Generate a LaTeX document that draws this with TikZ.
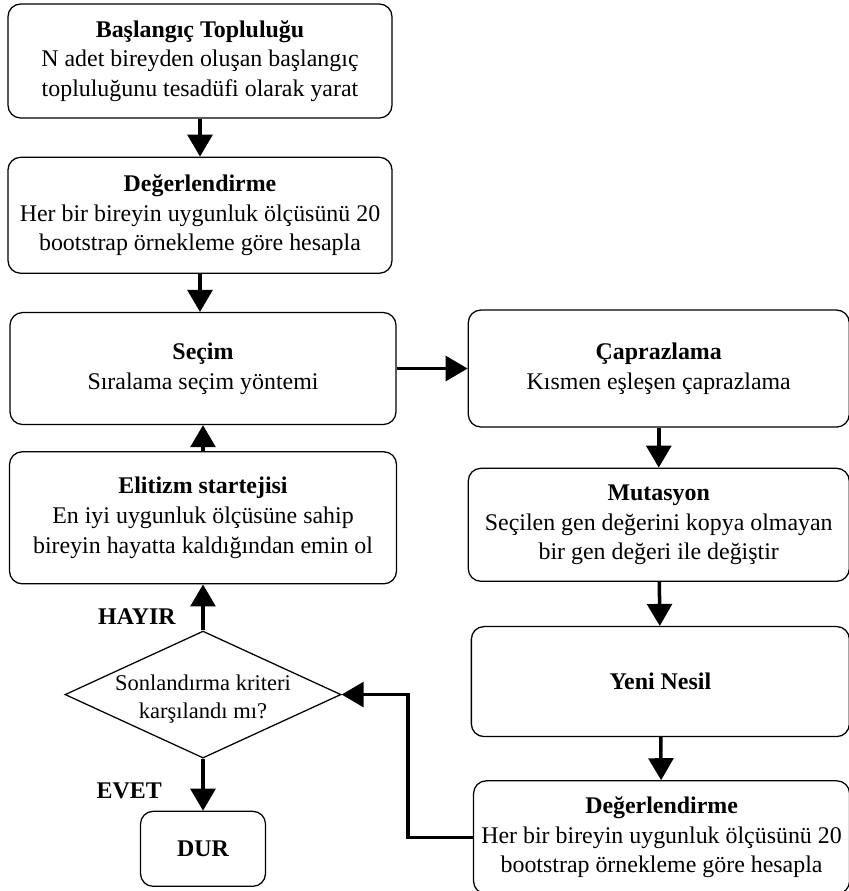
\documentclass[tikz,border=0pt]{standalone}
\usepackage{fontspec}
\setmainfont{Liberation Serif}
\usetikzlibrary{arrows.meta,positioning,shapes.geometric}

\begin{document}
\begin{tikzpicture}[
      blk/.style={draw, line width=0.9pt, rounded corners=9pt,
                  minimum width=9.6cm, minimum height=2.85cm,
                  inner xsep=2pt, align=center,
                  font=\fontsize{17}{21}\selectfont},
      dec/.style={draw, line width=0.9pt, diamond, aspect=2.17,
                  inner xsep=-0.8cm, inner ysep=0pt, text height=38pt,
                  minimum width=6.9cm, minimum height=3.175cm,
                  align=center, font=\fontsize{16}{20}\selectfont},
      lbl/.style={inner sep=0pt, font=\fontsize{17}{21}\selectfont\bfseries},
      arr/.style={-{Triangle[width=0.62cm,length=0.55cm]}, line width=2.5pt}
  ]
    \useasboundingbox (0,0) rectangle (21.225,-22.275);
    % left column
    \node[blk] (bas) at (5.0,-1.525)
      {\textbf{Başlangıç Topluluğu}\\ N adet bireyden oluşan başlangıç\\ topluluğunu tesadüfi olarak yarat};
    \node[blk, minimum height=2.9cm, below=0.95cm of bas] (deg1)
      {\textbf{Değerlendirme}\\ Her bir bireyin uygunluk ölçüsünü 20\\ bootstrap örnekleme göre hesapla};
    \node[blk, minimum width=9.65cm, minimum height=2.8cm, below=0.95cm of deg1, xshift=0.075cm] (secim)
      {\textbf{Seçim}\\ Sıralama seçim yöntemi};
    \node[blk, minimum width=9.675cm, minimum height=3.3cm, below=0.65cm of secim] (elit)
      {\textbf{Elitizm startejisi}\\ En iyi uygunluk ölçüsüne sahip\\ bireyin hayatta kaldığından emin ol};
    \node[dec, below=1.15cm of elit] (kos) {Sonlandırma kriteri\\ karşılandı mı?};
    \node[blk, minimum width=3.125cm, minimum height=1.875cm, below=1.3cm of kos] (dur) {\textbf{DUR}};
    % right column
    \node[blk, minimum width=9.525cm, minimum height=2.925cm, right=1.775cm of secim] (capr)
      {\textbf{Çaprazlama}\\ Kısmen eşleşen çaprazlama};
    \node[blk, minimum width=9.525cm, minimum height=2.825cm, below=1.0cm of capr] (mut)
      {\textbf{Mutasyon}\\ Seçilen gen değerini kopya olmayan\\ bir gen değeri ile değiştir};
    \node[blk, minimum width=9.45cm, minimum height=2.75cm, below=1.1cm of mut, xshift=0.04cm] (yeni)
      {\textbf{Yeni Nesil}};
    \node[blk, minimum width=9.4cm, minimum height=2.825cm, below=1.075cm of yeni, xshift=0.03cm] (deg2)
      {\textbf{Değerlendirme}\\ Her bir bireyin uygunluk ölçüsünü 20\\ bootstrap örnekleme göre hesapla};
    % labels
    \node[lbl, above left=0.15cm and 0.675cm of kos.north] (hayir) {HAYIR};
    \node[lbl, below left=0.6cm and 1.025cm of kos.south] (evet) {EVET};
    % connectors
    \draw[arr] (bas) -- (deg1);
    \draw[arr] (deg1.south) -- (deg1.south |- secim.north);
    \draw[arr] (secim) -- (capr);
    \draw[arr] (capr) -- (mut);
    \draw[arr] (mut) -- (yeni);
    \draw[arr] (yeni) -- (deg2);
    \draw[arr] (deg2.west) -- ++(-1.625cm,0) |- (kos.east);
    \draw[arr] (kos.north) -- (kos.north |- elit.south);
    \draw[arr] (elit) -- (secim);
    \draw[arr] (kos) -- (dur);
  \end{tikzpicture}
\end{document}
